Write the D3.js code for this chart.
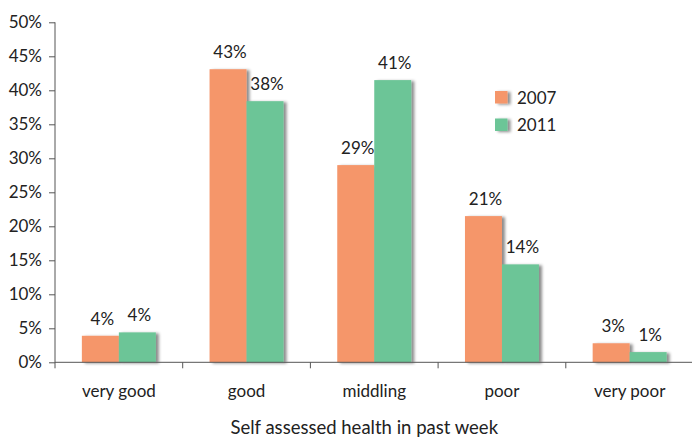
<!DOCTYPE html>
<html><head><meta charset="utf-8">
<script src="https://cdn.jsdelivr.net/npm/d3@7"></script>
<style>
body{margin:0;background:#fff;}
text{font-family:Lato, "Open Sans", sans-serif;fill:#222;}
</style></head>
<body><svg id="c" width="692" height="439"></svg>
<script>
const categories = ["very good","good","middling","poor","very poor"];
const seriesNames = ["2007","2011"];
const values2007 = [3.9, 43.1, 29.0, 21.5, 2.8];
const values2011 = [4.4, 38.4, 41.5, 14.4, 1.5];
const labels2007 = ["4%","43%","29%","21%","3%"];
const labels2011 = ["4%","38%","41%","14%","1%"];
const yTicks = [0,5,10,15,20,25,30,35,40,45,50];
const xTitle = "Self assessed health in past week";
const colors = {"2007":"#f5966b","2011":"#6cc597"};

const svg = d3.select("#c");
const defs = svg.append("defs");
const f = defs.append("filter").attr("id","sh").attr("x","-20%").attr("y","-20%").attr("width","160%").attr("height","160%");
f.append("feDropShadow").attr("dx",3).attr("dy",1).attr("stdDeviation",1.6).attr("flood-color","#000").attr("flood-opacity",0.45);

const FS = 17;
const mL=55, mR=693.5, mT=22.3, mB=362.3;
const x = d3.scaleBand().domain(categories).range([mL,mR]).paddingInner(0).paddingOuter(0);
const xs = d3.scaleBand().domain(seriesNames).range([0,x.bandwidth()]).paddingInner(0).paddingOuter(0.726);
const y = d3.scaleLinear().domain([0,50]).range([mB,mT]);

const data = categories.map((c,i)=>({c, vals:[
  {s:"2007", v:values2007[i], l:labels2007[i]},
  {s:"2011", v:values2011[i], l:labels2011[i]}]}));

const g = svg.selectAll("g.cat").data(data).join("g").attr("class","cat")
  .attr("transform",d=>`translate(${x(d.c)},0)`);
g.selectAll("rect").data(d=>d.vals).join("rect")
  .attr("x",d=>xs(d.s)).attr("width",xs.bandwidth())
  .attr("y",d=>y(d.v)).attr("height",d=>y(0)-y(d.v))
  .attr("fill",d=>colors[d.s]).attr("filter","url(#sh)");
g.selectAll("text.lab").data(d=>d.vals).join("text").attr("class","lab")
  .attr("x",d=>xs(d.s)+xs.bandwidth()/2+2).attr("y",d=>y(d.v)-11)
  .attr("text-anchor","middle").attr("font-size",FS).text(d=>d.l);

// y axis
const ya = svg.append("g").attr("transform",`translate(${mL},0)`)
  .call(d3.axisLeft(y).tickValues(yTicks).tickFormat(d=>d+"%").tickSize(6).tickPadding(7));
ya.select(".domain").attr("stroke","#555").attr("d",`M0,${mT}V${mB+6}`);
ya.selectAll(".tick line").attr("stroke","#555");
ya.selectAll("text").attr("font-size",FS).attr("fill","#222").attr("font-family","Lato");

// x axis
const xa = svg.append("g").attr("transform",`translate(0,${mB})`)
  .call(d3.axisBottom(x).tickSize(0));
xa.select(".domain").attr("stroke","#555").attr("d",`M${mL},0H${mR}`);
xa.selectAll("text").attr("font-size",FS).attr("fill","#222").attr("font-family","Lato").attr("y",35).attr("dy",0);
xa.selectAll("line.bd").data(categories.slice(1)).join("line").attr("class","bd")
  .attr("x1",d=>x(d)).attr("x2",d=>x(d)).attr("y1",0).attr("y2",6).attr("stroke","#555");

svg.append("text").attr("x",(mL+mR)/2-10).attr("y",434).attr("text-anchor","middle")
  .attr("font-size",18.5).text(xTitle);

// legend
const lg = svg.selectAll("g.lg").data(seriesNames).join("g").attr("class","lg")
  .attr("transform",(d,i)=>`translate(495,${91+i*27.5})`);
lg.append("rect").attr("width",12.5).attr("height",12.5).attr("fill",d=>colors[d]).attr("filter","url(#sh)");
lg.append("text").attr("x",22).attr("y",12.5).attr("font-size",FS).text(d=>d);
</script></body></html>
